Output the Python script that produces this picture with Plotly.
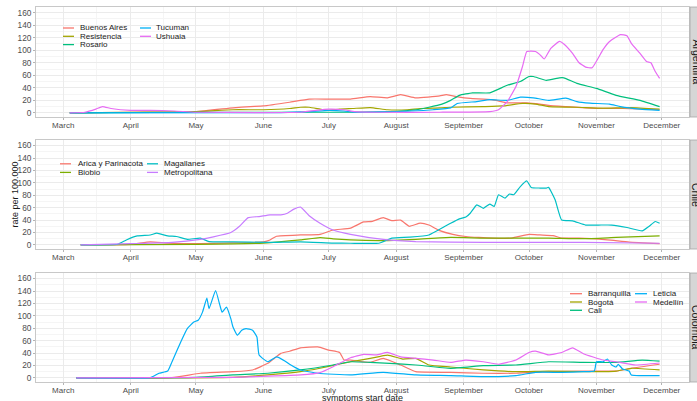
import pandas as pd
import plotly.graph_objects as go

# ---------------- data (day offsets from 2020-03-01, rate per 100.000) ----------------
base_date = "2020-03-01"
month_ticks = ["2020-03-01", "2020-04-01", "2020-05-01", "2020-06-01", "2020-07-01",
               "2020-08-01", "2020-09-01", "2020-10-01", "2020-11-01", "2020-12-01"]
y_ticks = [0, 20, 40, 60, 80, 100, 120, 140, 160]
countries = ["Argentina", "Chile", "Colombia"]

# Argentina
buenos_aires_days = [3, 31, 61, 78, 86, 92, 104, 113, 122, 132, 141, 149, 155, 162, 173, 176, 182, 187, 197, 204, 213, 219, 223, 231, 242, 248, 257, 274]
buenos_aires_vals = [0, 1, 2, 8, 10, 11, 17, 22, 22, 22, 26, 24, 29, 24, 27, 29, 25, 23, 21, 16, 16, 14, 12, 10, 7.5, 7, 7, 5]
resistencia_days = [3, 31, 61, 78, 92, 104, 109, 113, 118, 122, 127, 133, 141, 149, 158, 164, 173, 178, 193, 202, 211, 217, 223, 236, 248, 261, 274]
resistencia_vals = [0, 1, 2, 5, 5, 7, 9, 9, 6, 4, 6, 7, 8.5, 5, 5, 7, 8, 9, 10, 11, 15, 14, 10, 9, 7.5, 8.5, 6]
rosario_days = [3, 61, 122, 150, 162, 168, 174, 178, 182, 188, 196, 204, 210, 214, 216, 222, 228, 230, 236, 245, 254, 265, 274]
rosario_vals = [0, 1, 1, 2, 5, 9, 14, 20, 28, 32, 32, 44, 50, 58, 58, 52, 56, 56, 47, 39, 28, 20, 10]
tucuman_days = [3, 100, 113, 122, 129, 134, 160, 170, 178, 181, 190, 196, 204, 210, 216, 223, 231, 236, 242, 251, 256, 265, 274]
tucuman_vals = [0, 0.5, 2, 4, 3, 1, 3, 5, 8, 15, 18, 21, 20, 25, 24, 20, 23.5, 18, 15.5, 14, 10, 6, 4]
ushuaia_days = [3, 10, 15, 18, 22, 31, 40, 51, 61, 90, 109, 116, 122, 129, 134, 145, 173, 196, 200, 204, 208, 211, 213, 217, 219, 221, 224, 228, 230, 234, 237, 240, 243, 248, 251, 256, 259, 261, 265, 268, 270, 272, 274]
ushuaia_vals = [0, 1, 6, 10, 7, 4, 4, 3, 1, 0.5, 1, 4, 6, 5, 2, 1, 1, 2, 5, 18, 42, 74, 98, 98, 93, 86, 103, 114, 110, 95, 80, 73, 72, 101, 114, 125, 123, 111, 95, 82, 80, 66, 55]

# Chile
arica_days = [8, 31, 40, 48, 61, 92, 95, 98, 109, 118, 124, 132, 138, 142, 147, 151, 155, 159, 164, 168, 173, 179, 185, 191, 197, 206, 214, 219, 225, 229, 237, 250, 260, 274]
arica_vals = [0, 1, 5, 3, 2, 5, 8, 14, 16, 17, 24, 27, 37, 38, 44, 39, 40, 30, 35, 32, 23, 17, 13.5, 12, 11, 11, 17, 16, 15, 11, 10.8, 8, 4.5, 2]
biobio_days = [8, 61, 92, 109, 118, 124, 132, 147, 162, 178, 193, 208, 223, 239, 254, 274]
biobio_vals = [0, 1, 3, 8, 11.8, 9.7, 8, 7, 9, 12, 11, 11, 11, 10, 12, 14.5]
magallanes_days = [8, 25, 29, 34, 40, 43, 48, 52, 57, 63, 67, 78, 94, 109, 124, 132, 145, 151, 159, 168, 178, 182, 185, 187, 190, 193, 196, 198, 200, 203, 205, 207, 210, 213, 215, 219, 222, 223, 226, 229, 234, 240, 246, 252, 259, 266, 269, 272, 274]
magallanes_vals = [0, 1, 8, 14.5, 16, 19, 14.5, 13.5, 9, 10.8, 5.4, 5, 4, 5, 3, 2.7, 2.7, 10.8, 12.4, 16, 35, 42, 45, 51, 64.6, 59, 65.8, 62, 80.8, 75.4, 82, 80.8, 94, 103, 92.6, 91.6, 91.6, 92.6, 72.7, 40, 38.8, 32, 32, 32, 28, 22.6, 29.6, 37.7, 35]
metropolitana_days = [8, 31, 50, 63, 69, 77, 81, 85, 90, 95, 100, 103, 106, 109, 113, 118, 124, 132, 147, 162, 193, 239, 274]
metropolitana_vals = [0, 2, 4, 9, 13, 20, 30, 44, 45.7, 48.5, 48.5, 51, 57.6, 61, 47, 35, 24, 17, 9, 5.4, 4, 4, 2.7]

# Colombia
barranquilla_days = [6, 50, 63, 78, 87, 94, 100, 104, 109, 117, 122, 127, 129, 132, 141, 147, 155, 162, 178, 193, 208, 223, 239, 254, 261, 274]
barranquilla_vals = [0, 0.5, 7.5, 10, 12.8, 23.5, 39.5, 43, 48.5, 50, 44.8, 41, 28.8, 28.8, 25, 31.5, 20.8, 10, 9, 7.5, 7.5, 10, 11, 11, 15.5, 22]
bogota_days = [6, 78, 94, 109, 118, 127, 132, 141, 149, 156, 162, 168, 178, 193, 208, 223, 239, 254, 261, 274]
bogota_vals = [0, 1, 4.8, 10, 15.5, 22.4, 26, 31.5, 36.8, 30.4, 31.5, 20.8, 17.6, 12.8, 10, 11, 10, 11, 15.5, 12.8]
cali_days = [6, 61, 78, 94, 109, 124, 132, 141, 150, 162, 178, 193, 208, 223, 239, 254, 266, 274]
cali_vals = [0, 1, 4.8, 7.5, 12.8, 20.8, 26, 25, 23.5, 20.8, 15.5, 19.7, 20.8, 26, 25, 25, 28.8, 27]
leticia_days = [6, 40, 44, 48, 50, 54, 57, 60, 62, 64, 66, 67, 70, 72, 73, 75, 77, 78, 80, 82, 84, 87, 89, 90, 94, 98, 102, 104, 109, 117, 132, 147, 162, 178, 193, 208, 217, 229, 239, 244, 245, 248, 250, 252, 254, 255, 257, 260, 261, 274]
leticia_vals = [0, 0.5, 7.5, 11, 26, 58, 79.5, 90, 92.8, 106, 128.5, 111.5, 140.8, 116.8, 106, 114, 95.5, 82, 68.8, 76.8, 79.5, 76.8, 66, 36.8, 26, 34, 27, 22, 12.8, 7.5, 4.8, 9, 4.8, 3.7, 2, 3.7, 9, 9, 10, 11, 26, 26, 30.4, 20.8, 17.6, 22, 14.4, 11, 4.8, 3.7]
medellin_days = [6, 78, 109, 118, 124, 132, 138, 144, 149, 155, 162, 170, 178, 185, 193, 200, 208, 214, 217, 223, 229, 234, 239, 248, 254, 263, 274]
medellin_vals = [0, 1, 4.8, 8.5, 18, 32.5, 38, 37, 41, 34, 31.5, 28.8, 25, 28.8, 26, 22, 28.8, 41, 43, 37, 41, 48.5, 39, 28.8, 26, 20.8, 24]

arg_names = ["Buenos Aires", "Resistencia", "Rosario", "Tucuman", "Ushuaia"]
chl_names = ["Arica y Parinacota", "Biobio", "Magallanes", "Metropolitana"]
col_names = ["Barranquilla", "Bogotá", "Cali", "Leticia", "Medellín"]

arg_series = [(buenos_aires_days, buenos_aires_vals), (resistencia_days, resistencia_vals),
              (rosario_days, rosario_vals), (tucuman_days, tucuman_vals), (ushuaia_days, ushuaia_vals)]
chl_series = [(arica_days, arica_vals), (biobio_days, biobio_vals),
              (magallanes_days, magallanes_vals), (metropolitana_days, metropolitana_vals)]
col_series = [(barranquilla_days, barranquilla_vals), (bogota_days, bogota_vals), (cali_days, cali_vals),
              (leticia_days, leticia_vals), (medellin_days, medellin_vals)]

hue5 = ["#F8766D", "#A3A500", "#00BF7D", "#00B0F6", "#E76BF3"]
hue4 = ["#F8766D", "#7CAE00", "#00BFC4", "#C77CFF"]

# ---------------- figure ----------------
W, H = 697, 401
def px_x(p):
    return p / W
def px_y(p):
    return 1 - p / H

FONT = "Liberation Sans, Arial, sans-serif"
base = pd.Timestamp(base_date)

fig = go.Figure()
panels = [
    (arg_names, arg_series, hue5, "x", "y"),
    (chl_names, chl_series, hue4, "x2", "y2"),
    (col_names, col_series, hue5, "x3", "y3"),
]
for names, series, colors, xa, ya in panels:
    for name, (days, vals), c in zip(names, series, colors):
        dates = base + pd.to_timedelta(days, unit="D")
        fig.add_trace(go.Scatter(x=dates, y=vals, mode="lines", name=name,
                                 line=dict(color=c, width=1.2, shape="spline", smoothing=0.4),
                                 xaxis=xa, yaxis=ya, showlegend=False))

# panel geometry (pixels)
panel_top = [7, 140, 273]
panel_bot = [117, 249, 382]
x_left, x_right = 36, 689

mt = pd.to_datetime(month_ticks)
minor_vals = [mt[i] + (mt[i + 1] - mt[i]) / 2 for i in range(len(mt) - 1)]
xrange_ = [base - pd.Timedelta(days=12.5), base + pd.Timedelta(days=287.5)]

layout = dict(width=W, height=H, margin=dict(l=0, r=0, t=0, b=0),
              paper_bgcolor="white", plot_bgcolor="white",
              font=dict(family=FONT, size=8, color="#4D4D4D"))
for i in range(3):
    sx = "" if i == 0 else str(i + 1)
    layout["xaxis" + sx] = dict(
        domain=[px_x(x_left), px_x(x_right)], anchor="y" + sx, type="date",
        range=xrange_, tickmode="array", tickvals=month_ticks, tickformat="%B",
        showgrid=True, gridcolor="#EBEBEB", gridwidth=0.7,
        minor=dict(tickmode="array", tickvals=minor_vals, showgrid=True,
                   gridcolor="#F5F5F5", gridwidth=0.5, ticks=""),
        ticks="outside", ticklen=2, tickcolor="#B3B3B3", tickwidth=0.7,
        ticklabelstandoff=-2,
        showline=True, linecolor="#C8C8C8", linewidth=0.8, mirror=True,
        zeroline=False, tickfont=dict(size=8, color="#4D4D4D"))
    layout["yaxis" + sx] = dict(
        domain=[px_y(panel_bot[i]), px_y(panel_top[i])], anchor="x" + sx,
        range=[-6.6, 169], tickmode="array", tickvals=y_ticks,
        showgrid=True, gridcolor="#EBEBEB", gridwidth=0.7,
        minor=dict(dtick=10, tick0=0, showgrid=True, gridcolor="#F5F5F5", gridwidth=0.5, ticks=""),
        ticks="outside", ticklen=2, tickcolor="#B3B3B3", tickwidth=0.7,
        showline=True, linecolor="#C8C8C8", linewidth=0.8, mirror=True,
        zeroline=False, tickfont=dict(size=8.3, color="#4D4D4D"))

shapes = []
annotations = []
# strips on the right
for i, name in enumerate(countries):
    shapes.append(dict(type="rect", xref="paper", yref="paper",
                       x0=px_x(690), x1=px_x(712), y0=px_y(panel_bot[i]), y1=px_y(panel_top[i]),
                       fillcolor="#D6D6D6", line=dict(color="#A6A6A6", width=0.8), layer="above"))
    annotations.append(dict(text=name, xref="paper", yref="paper",
                            x=px_x(696.5), y=px_y((panel_top[i] + panel_bot[i]) / 2),
                            xanchor="center", yanchor="middle", textangle=90, showarrow=False,
                            font=dict(family=FONT, size=10.5, color="#1A1A1A")))

# in-panel legends (two columns, column-major)
legend_specs = [
    (arg_names, hue5, [(63, 74, 78), (140, 151, 154)], [28, 36.3, 44.6]),
    (chl_names, hue4, [(60, 71, 76), (147, 158, 162)], [163.8, 172.4]),
    (col_names, hue5, [(570, 582, 586), (635, 647, 651)], [293.7, 302, 310.3]),
]
for names, colors, cols, rows in legend_specs:
    nrows = len(rows)
    for k, (nm, c) in enumerate(zip(names, colors)):
        ci, ri = divmod(k, nrows)
        kx0, kx1, tx = cols[ci]
        ry = rows[ri]
        shapes.append(dict(type="line", xref="paper", yref="paper",
                           x0=px_x(kx0), x1=px_x(kx1), y0=px_y(ry), y1=px_y(ry),
                           line=dict(color=c, width=1.3), layer="above"))
        annotations.append(dict(text=nm, xref="paper", yref="paper", x=px_x(tx), y=px_y(ry),
                                xanchor="left", yanchor="middle", showarrow=False,
                                font=dict(family=FONT, size=8, color="#1A1A1A")))

# axis titles
annotations.append(dict(text="rate per 100.000", xref="paper", yref="paper",
                        x=px_x(14), y=px_y(194.5), textangle=-90, showarrow=False,
                        xanchor="center", yanchor="middle",
                        font=dict(family=FONT, size=9, color="#1A1A1A")))
annotations.append(dict(text="symptoms start date", xref="paper", yref="paper",
                        x=px_x(363), y=px_y(397.5), showarrow=False,
                        xanchor="center", yanchor="middle",
                        font=dict(family=FONT, size=9, color="#1A1A1A")))

layout["shapes"] = shapes
layout["annotations"] = annotations
fig.update_layout(**layout)
fig.write_html("out.html")
